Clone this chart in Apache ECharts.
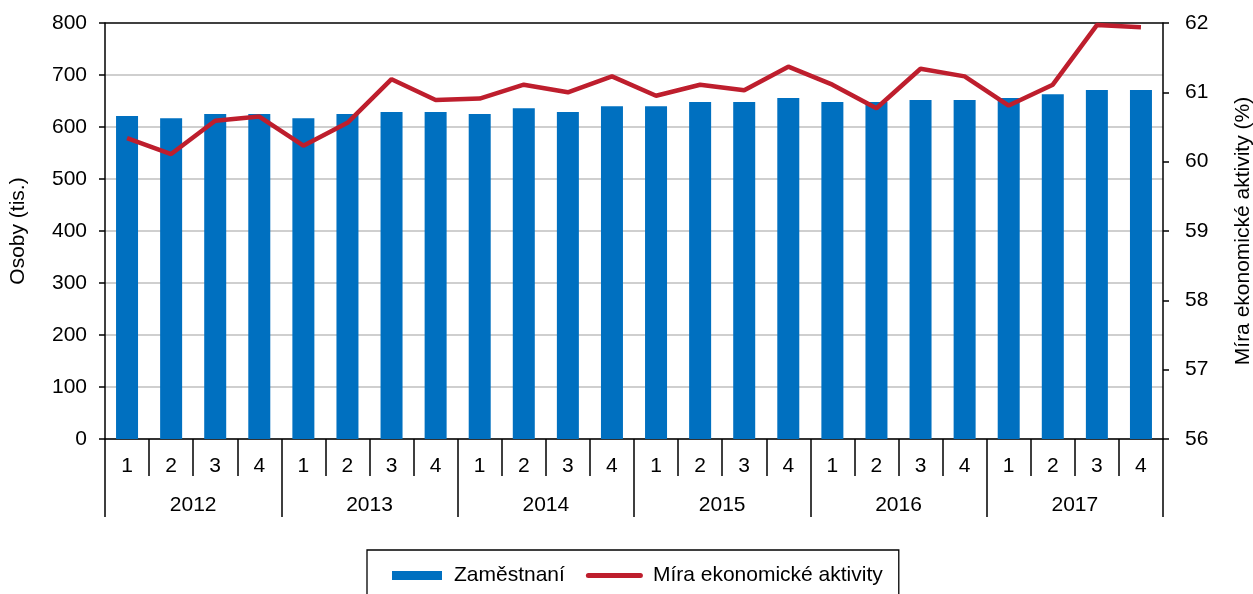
<!DOCTYPE html>
<html>
<head>
<meta charset="utf-8">
<script src="https://cdn.jsdelivr.net/npm/echarts@6/dist/echarts.min.js"></script>
<style>html,body{margin:0;padding:0;background:#fff}#c{width:1253px;height:594px}</style>
</head>
<body>
<div id="c"></div>
<script>
const quarters = ['1','2','3','4','1','2','3','4','1','2','3','4','1','2','3','4','1','2','3','4','1','2','3','4'];
const years = ['2012','2013','2014','2015','2016','2017'];
const employed = [621,617,625,625, 617,625,629,629, 625,636,629,640, 640,648,648,656, 648,648,652,652, 656,663,671,671];
const activityRate = [60.34,60.11,60.59,60.65, 60.23,60.56,61.19,60.89, 60.91,61.11,61.00,61.23, 60.95,61.11,61.03,61.37, 61.11,60.77,61.34,61.23, 60.81,61.11,61.97,61.94];
const leftTicks = [0,100,200,300,400,500,600,700,800];
const rightTicks = [56,57,58,59,60,61,62];

const FONT = "'Liberation Sans', Arial, sans-serif";
const FS = 21;
const chart = echarts.init(document.getElementById('c'), null, {renderer:'canvas'});
const gridColors = leftTicks.map((v,i)=> i===leftTicks.length-1 ? '#000000' : '#BFBFBF');
chart.setOption({
  animation:false,
  textStyle:{fontFamily:FONT},
  grid:{left:105,right:90,top:23,bottom:155,containLabel:false,outerBoundsMode:'none'},
  legend:{
    left:367, top:550,
    padding:[15,16,15,25],
    borderColor:'#000', borderWidth:1.3,
    itemWidth:57, itemHeight:9, itemGap:21,
    textStyle:{fontFamily:FONT,fontSize:FS,color:'#000'},
    data:[
      {name:'Zaměstnaní',icon:'path://M0,0H50V9H0Z M57,0V9'},
      {name:'Míra ekonomické aktivity',icon:'path://M2.5,0H54.5A2.5,2.5 0 0 1 54.5,5H2.5A2.5,2.5 0 0 1 2.5,0Z',textStyle:{padding:[0,0,0,5]}}
    ]
  },
  xAxis:[
    {type:'category',data:quarters,position:'bottom',boundaryGap:true,
     axisLine:{lineStyle:{color:'#000',width:1.5}},
     axisTick:{show:true,interval:0,length:37,lineStyle:{color:'#000',width:1.5}},
     axisLabel:{interval:0,margin:17,fontSize:FS,color:'#000',fontFamily:FONT},
     splitLine:{show:false}},
    {type:'category',data:years,position:'bottom',boundaryGap:true,
     axisLine:{show:false},
     axisTick:{show:true,interval:0,length:78,lineStyle:{color:'#000',width:1.5}},
     axisLabel:{interval:0,margin:56,fontSize:FS,color:'#000',fontFamily:FONT},
     splitLine:{show:false}}
  ],
  yAxis:[
    {type:'value',min:0,max:800,interval:100,position:'left',
     name:'Osoby (tis.)',nameLocation:'middle',nameGap:76,nameRotate:90,
     nameTextStyle:{fontSize:FS,color:'#000',fontFamily:FONT},
     axisLine:{show:true,lineStyle:{color:'#000',width:1.5}},
     axisTick:{show:true,length:6,lineStyle:{color:'#000',width:1.5}},
     axisLabel:{margin:18,fontSize:FS,color:'#000',fontFamily:FONT,formatter:v=>leftTicks.includes(v)?String(v):''},
     splitLine:{show:true,lineStyle:{color:gridColors,width:1.5}}},
    {type:'value',min:56,max:62,interval:1,position:'right',
     name:'Míra ekonomické aktivity (%)',nameLocation:'middle',nameGap:70,nameRotate:90,
     nameTextStyle:{fontSize:FS,color:'#000',fontFamily:FONT},
     axisLine:{show:true,lineStyle:{color:'#000',width:1.5}},
     axisTick:{show:true,length:6,lineStyle:{color:'#000',width:1.5}},
     axisLabel:{margin:22,fontSize:FS,color:'#000',fontFamily:FONT,formatter:v=>rightTicks.includes(v)?String(v):''},
     splitLine:{show:false}}
  ],
  series:[
    {name:'Zaměstnaní',type:'bar',xAxisIndex:0,yAxisIndex:0,data:employed,barWidth:22,
     itemStyle:{color:'#0070C0'}},
    {name:'Míra ekonomické aktivity',type:'line',xAxisIndex:0,yAxisIndex:1,data:activityRate,
     symbol:'none',lineStyle:{color:'#BE1E2D',width:4.5},itemStyle:{color:'#BE1E2D'},z:5}
  ]
});
</script>
</body>
</html>
